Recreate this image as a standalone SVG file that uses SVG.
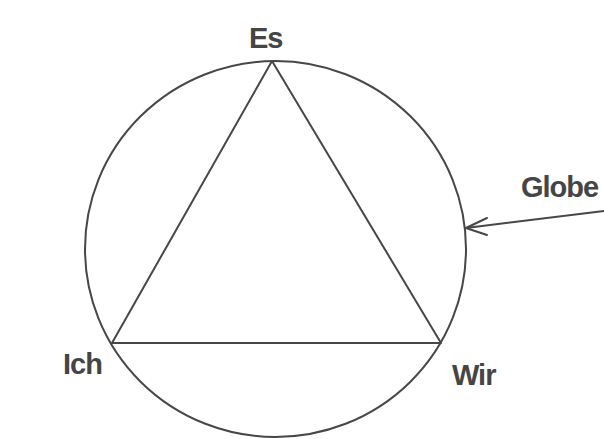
<svg xmlns="http://www.w3.org/2000/svg" width="604" height="439" viewBox="0 0 604 439">
<style>
.ln{fill:none;stroke:#474747;stroke-width:2;stroke-linecap:round;stroke-linejoin:round}
.lbl{font-family:"Liberation Sans",Arial,sans-serif;font-weight:bold;font-size:29px;fill:#454545;letter-spacing:-1px}
</style>
<rect width="604" height="439" fill="#ffffff"/>
<g id="globe"><ellipse class="ln" cx="275.5" cy="249" rx="190.5" ry="188"/></g>
<g id="triangle"><polygon class="ln" points="272,61 112,343 441,343"/></g>
<g id="es"><text class="lbl" x="249" y="48">Es</text></g>
<g id="ich"><text class="lbl" x="63" y="374">Ich</text></g>
<g id="wir"><text class="lbl" x="452" y="385">Wir</text></g>
<g id="globe-label"><text class="lbl" x="521" y="197">Globe</text></g>
<g id="connectors">
<line class="ln" x1="604" y1="211" x2="466" y2="228"/>
<polyline class="ln" points="487,218 466,228 487,235"/>
</g>
</svg>
